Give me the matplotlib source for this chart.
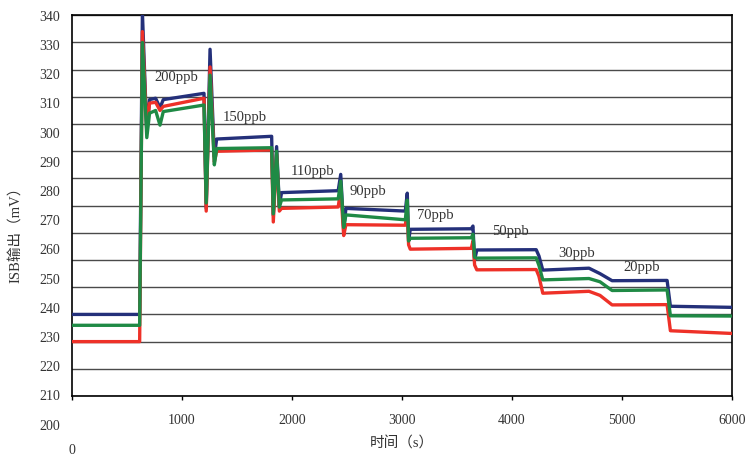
import matplotlib
matplotlib.use("Agg")
import matplotlib.pyplot as plt

# ---- data (hand-read key points from the reference) ----
t_keys = [0, 615, 640, 680, 705, 760, 800, 830, 1200, 1220, 1255, 1294, 1315,
          1815, 1830, 1860, 1885, 1905, 2420, 2443, 2470, 2490, 3030, 3048,
          3060, 3075, 3630, 3645, 3660, 3680, 4220, 4245, 4280, 4700, 4800,
          4910, 5410, 5440, 6000]
blue = [230.0, 230.0, 341.0, 297.0, 309.0, 309.5, 306.0, 309.0, 311.3, 269.0,
        327.5, 288.0, 294.5, 295.5, 266.5, 291.7, 270.0, 274.8, 275.5, 281.5,
        261.0, 269.0, 268.0, 274.6, 257.0, 261.3, 261.5, 262.5, 250.0, 253.7,
        253.8, 251.5, 246.3, 247.0, 245.0, 242.4, 242.5, 233.0, 232.6]
red = [220.0, 220.0, 334.0, 298.0, 307.7, 308.0, 305.0, 306.5, 309.5, 268.0,
       321.0, 286.0, 290.0, 290.5, 264.0, 289.0, 268.0, 269.0, 269.5, 276.0,
       259.0, 263.0, 262.8, 268.0, 255.6, 254.0, 254.3, 257.0, 248.2, 246.4,
       246.5, 244.0, 237.8, 238.5, 237.0, 233.5, 233.6, 224.0, 223.0]
green = [226.0, 226.0, 330.0, 295.0, 304.0, 305.0, 299.6, 304.6, 307.0, 271.0,
         318.0, 285.0, 291.0, 291.3, 267.0, 290.0, 269.5, 272.1, 272.5, 279.0,
         262.0, 266.6, 264.8, 272.0, 257.0, 258.0, 258.2, 259.5, 251.0, 250.7,
         250.8, 248.0, 242.7, 243.2, 242.0, 238.8, 239.0, 229.5, 229.4]

conc_labels = ["200ppb", "150ppb", "110ppb", "90ppb", "70ppb", "50ppb", "30ppb", "20ppb"]
ytick_labels = ["340", "330", "320", "310", "300", "290", "280", "270", "260",
                "250", "240", "230", "220", "210", "200"]
xtick_vals = [0, 1000, 2000, 3000, 4000, 5000, 6000]
xtick_labels = ["", "1000", "2000", "3000", "4000", "5000", "6000"]

W, H = 747, 457
fig = plt.figure(figsize=(W / 100, H / 100), dpi=100)
L, R, T, B = 72, 732, 15.3, 396
ax = fig.add_axes([L / W, 1 - B / H, (R - L) / W, (B - T) / H])

num_font = "Liberation Serif"
txt_col = "#333333"

ax.plot(t_keys, blue, color="#24307a", lw=2.4, zorder=3)
ax.plot(t_keys, red, color="#ee3128", lw=2.4, zorder=4)
ax.plot(t_keys, green, color="#1f8a45", lw=2.4, zorder=5)

ax.set_xlim(0, 6000)
ax.set_ylim(200, 340)
ax.set_yticks(range(200, 341, 10))
ax.set_yticklabels([])
ax.tick_params(axis="y", length=0)
ax.grid(axis="y", color="#4a4a4a", lw=1.0, zorder=1)
ax.set_axisbelow(True)

ax.set_xticks(xtick_vals)
ax.set_xticklabels(xtick_labels, fontfamily=num_font, fontsize=10, color=txt_col)
ax.tick_params(axis="x", direction="out", length=3, width=1, pad=10)

for s in ax.spines.values():
    s.set_color("black")
    s.set_linewidth(1.2)

# y tick labels (placed as in the reference)
for k, lab in enumerate(ytick_labels):
    y = 17.3 + 29.2 * k
    fig.text(60 / W, 1 - y / H, lab, ha="right", va="center",
             fontfamily=num_font, fontsize=10, color=txt_col)
fig.text(72 / W, 1 - 450 / H, "0", ha="center", va="center",
         fontfamily=num_font, fontsize=10, color=txt_col)

# axis titles
fig.text(402 / W, 1 - 444 / H, "时间（s）", ha="center", va="center",
         fontfamily=[num_font, "Noto Sans CJK SC"], fontsize=10.5, color=txt_col)
fig.text(15 / W, 1 - 231 / H, "ISB输出（mV）", ha="center", va="center", rotation=90,
         fontfamily=[num_font, "Noto Sans CJK SC"], fontsize=10.5, color=txt_col)

# concentration annotations
label_pos = [(154, 77), (223, 118), (291, 171), (350, 191), (417, 215),
             (492, 232), (558, 253), (623, 267)]
for lab, (px, py) in zip(conc_labels, label_pos):
    fig.text(px / W, 1 - py / H, lab, ha="left", va="center",
             fontfamily=num_font, fontsize=10.5, color=txt_col)

fig.savefig("out.png", dpi=100)
